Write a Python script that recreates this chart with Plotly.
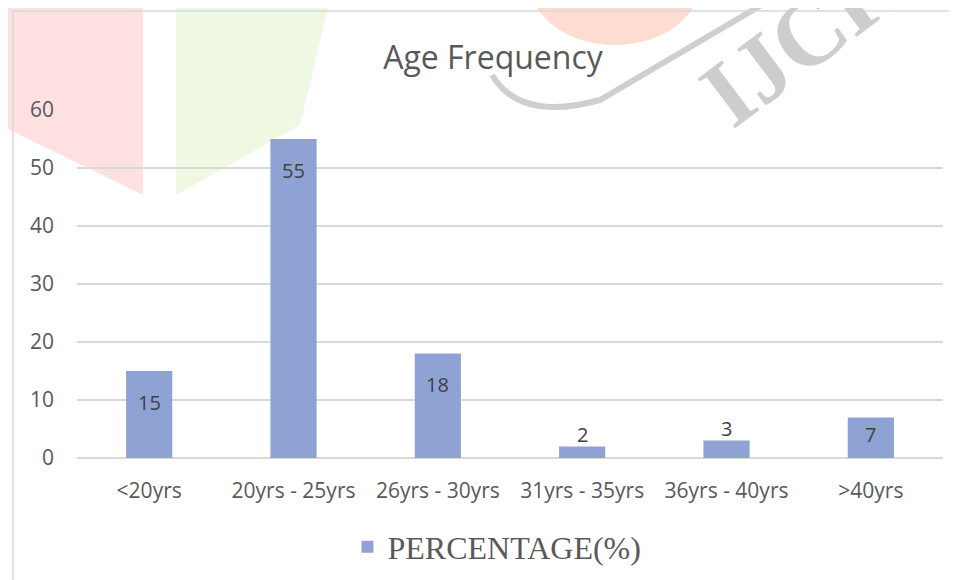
import plotly.graph_objects as go

categories = ["<20yrs", "20yrs - 25yrs", "26yrs - 30yrs", "31yrs - 35yrs", "36yrs - 40yrs", ">40yrs"]
percentages = [15, 55, 18, 2, 3, 7]
y_ticks = [0, 10, 20, 30, 40, 50, 60]

OFF = 8  # page body margin
W, H = 957 - OFF, 580 - OFF
# plot area in page pixels: x 77..943, y 110..458
L, R, T, B = 77 - OFF, 957 - 943, 110 - OFF, 580 - 458
PW, PH = W - L - R, H - T - B

def px(x):
    return (x - OFF - L) / PW

def py(y):
    return (H - B - (y - OFF)) / PH

bar_color = "#8FA2D4"
text_color = "#595959"
grid_color = "#D9D9D9"

fig = go.Figure()
fig.add_trace(go.Bar(
    x=categories, y=percentages, name="PERCENTAGE(%)",
    marker=dict(color=bar_color, line=dict(width=0)),
    showlegend=True,
))

# data labels
for c, v in zip(categories, percentages):
    if v >= 10:
        shift = -31
    elif v >= 5:
        shift = -17
    else:
        shift = 12
    fig.add_annotation(x=c, y=v, text=str(v), showarrow=False, yshift=shift,
                       font=dict(family="Open Sans, sans-serif", size=20, color="#404040"))

shapes = []
# faint watermark shapes (background decoration)
shapes.append(dict(type="path", xref="paper", yref="paper", layer="below",
                   path=f"M {px(0)},{py(0)} L {px(143)},{py(0)} L {px(143)},{py(195)} L {px(0)},{py(125)} Z",
                   fillcolor="#FFE1E1", line=dict(width=0)))
shapes.append(dict(type="path", xref="paper", yref="paper", layer="below",
                   path=f"M {px(176)},{py(0)} L {px(330)},{py(0)} L {px(300)},{py(125)} L {px(176)},{py(195)} Z",
                   fillcolor="#EEF8E2", line=dict(width=0)))
shapes.append(dict(type="circle", xref="paper", yref="paper", layer="below",
                   x0=px(530), x1=px(700), y0=py(-80), y1=py(45),
                   fillcolor="#FFDCD2", line=dict(width=0)))
shapes.append(dict(type="path", xref="paper", yref="paper", layer="below",
                   path=f"M {px(492)},{py(75)} Q {px(520)},{py(122)} {px(600)},{py(100)} L {px(770)},{py(0)}",
                   line=dict(color="#CFCFCF", width=6)))
# chart area border
shapes.append(dict(type="rect", xref="paper", yref="paper", layer="below",
                   x0=px(13), x1=px(970), y0=py(11), y1=py(600),
                   fillcolor="rgba(0,0,0,0)", line=dict(color=grid_color, width=1.5)))
fig.update_layout(shapes=shapes)

fig.add_annotation(xref="paper", yref="paper", x=px(802), y=py(38), text="<b>IJCR</b>",
                   xanchor="center", yanchor="middle",
                   showarrow=False, textangle=-37,
                   font=dict(family="Liberation Serif, serif", size=95, color="#CDCDCD"))

fig.update_layout(
    width=W, height=H,
    margin=dict(l=L, r=R, t=T, b=B, autoexpand=False),
    paper_bgcolor="white", plot_bgcolor="rgba(0,0,0,0)",
    bargap=0.68,
    title=dict(text="Age Frequency", x=(493 - OFF) / W, xanchor="center", y=1 - (58 - OFF) / H,
               yanchor="middle", xref="container", yref="container",
               font=dict(family="Open Sans, sans-serif", size=32, color=text_color)),
    xaxis=dict(showgrid=False, showline=False, zeroline=False, ticks="",
               tickfont=dict(family="Open Sans, sans-serif", size=21, color=text_color),
               ticklabelstandoff=18, automargin=False),
    yaxis=dict(range=[0, 60], tickvals=y_ticks, showgrid=True, gridcolor=grid_color, gridwidth=1.5,
               zeroline=True, zerolinecolor=grid_color, zerolinewidth=1.5, showline=False,
               tickfont=dict(family="Open Sans, sans-serif", size=21, color=text_color),
               ticklabelstandoff=22, automargin=False),
    legend=dict(orientation="h", xref="container", yref="container",
                x=(497 - OFF) / W, xanchor="center", y=1 - (547 - OFF) / H, yanchor="middle",
                font=dict(family="Liberation Serif, serif", size=32, color=text_color),
                itemwidth=30, bgcolor="rgba(0,0,0,0)"),
)

fig.write_html("out.html")
